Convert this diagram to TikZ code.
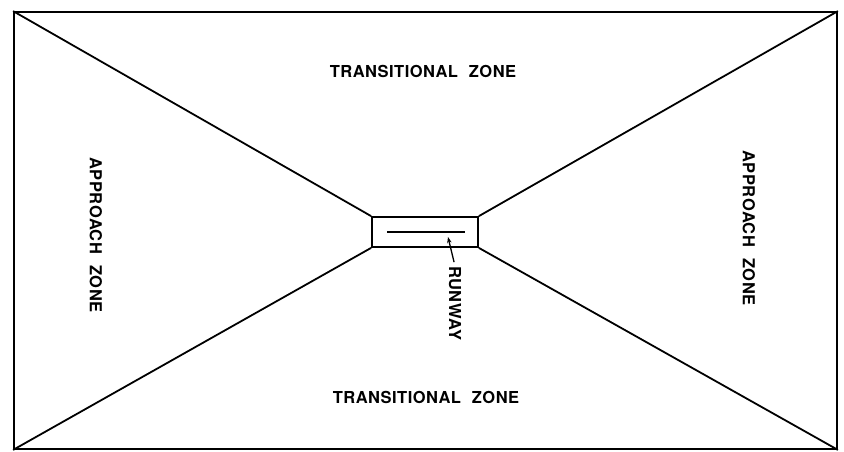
\documentclass[tikz,border=0pt]{standalone}
\usepackage{fontspec}
\newfontfamily\zonefont[LetterSpace=3]{TeX Gyre Heros Bold}
\usetikzlibrary{arrows.meta}

\begin{document}
\begin{tikzpicture}[x=1pt, y=-1pt, every node/.style={inner sep=0pt},
  zone/.style={font=\zonefont\fontsize{16.5}{19}\selectfont},
  edge/.style={line width=1.8pt}]
\useasboundingbox (0,0) rectangle (844,452);
% field outline and runway box
\node[draw, edge, minimum width=823pt, minimum height=437pt] at (425.5,230.5) (field) {};
\node[draw, edge, minimum width=106pt, minimum height=30pt] at (425,232) (rwy) {};

\draw[edge] (field.north west) -- (rwy.north west);
\draw[edge] (field.north east) -- (rwy.north east);
\draw[edge] (field.south west) -- (rwy.south west);
\draw[edge] (field.south east) -- (rwy.south east);

% runway strip
\coordinate (strip w) at (387,232);
\coordinate (strip e) at (465,232);
\coordinate (strip tip) at (448,237);
\draw[edge] (strip w) -- (strip e);

% zone labels
\node[zone] at (423,71) (top zone) {TRANSITIONAL\hspace{0.35em} ZONE};
\node[zone] at (426,397) (bottom zone) {TRANSITIONAL\hspace{0.35em} ZONE};
\node[zone, rotate=-90] at (96,235) (left zone) {APPROACH\hspace{0.35em} ZONE};
\node[zone, rotate=-90] at (749,228) (right zone) {APPROACH\hspace{0.35em} ZONE};
\node[zone, rotate=-90, anchor=west] at (455,266) (rwy label) {RUNWAY};

\draw[line width=1.3pt, -{Stealth[length=6pt, width=4.5pt]}, shorten <=4pt] (rwy label.west) -- (strip tip);
\end{tikzpicture}
\end{document}
